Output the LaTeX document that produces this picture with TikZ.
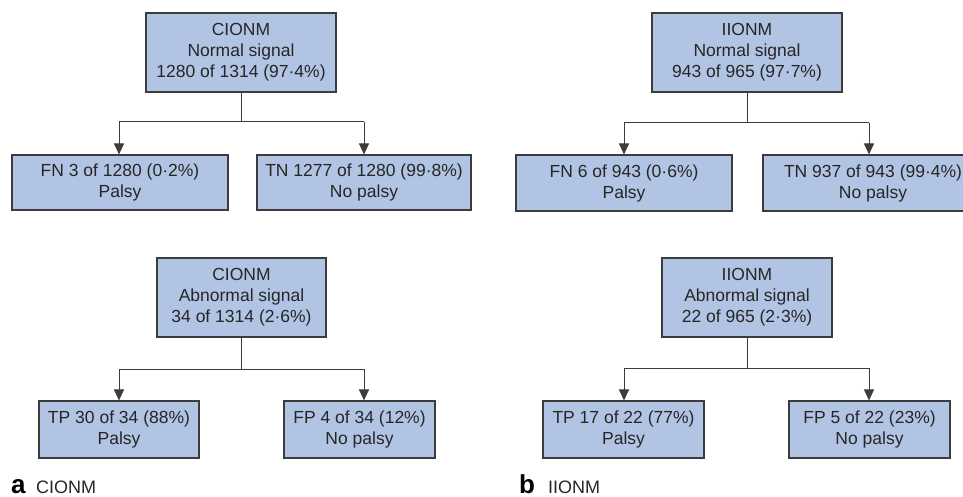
\documentclass[tikz,border=0pt]{standalone}
\usepackage{fontspec}
\setmainfont{Liberation Sans}
\usetikzlibrary{arrows.meta}
\definecolor{boxfill}{RGB}{178,196,228}
\definecolor{boxline}{RGB}{60,60,60}
\begin{document}
\begin{tikzpicture}[x=1pt,y=-1pt,
  bx/.style={draw=boxline,line width=1.1pt,fill=boxfill,align=center,inner sep=0pt,
    font=\fontsize{17.5}{21}\selectfont,text=black!85},
  cn/.style={draw=boxline,line width=1pt},
  arr/.style={cn,-{Triangle[width=10pt,length=11pt]}},
  lbl/.style={anchor=base west,inner sep=0pt,font=\fontsize{26}{26}\selectfont\bfseries},
  lbt/.style={anchor=base west,inner sep=0pt,font=\fontsize{18}{18}\selectfont,text=black!85}]
\useasboundingbox (0,0) rectangle (963,497);
\clip (0,0) rectangle (963,497);
\fill[white] (0,0) rectangle (963,497);
% ---- a: CIONM
\node[bx,minimum width=190pt,minimum height=79pt] (n1) at (241,52.5) {CIONM\\Normal signal\\1280 of 1314 (97·4\%)};
\node[bx,minimum width=216pt,minimum height=55pt] (fn1) at (120,182.5) {FN 3 of 1280 (0·2\%)\\Palsy};
\node[bx,minimum width=214pt,minimum height=55pt] (tn1) at (364,182.5) {TN 1277 of 1280 (99·8\%)\\No palsy};
\coordinate (j1) at (241,122);
\coordinate (l1) at (119,122);
\coordinate (r1) at (364,122);
\draw[cn] (n1.south) -- (j1);
\draw[cn] (l1) -- (r1);
\draw[arr] (l1) -- (l1 |- fn1.north);
\draw[arr] (r1) -- (r1 |- tn1.north);

\node[bx,minimum width=169pt,minimum height=79pt] (a1) at (241.5,297.5) {CIONM\\Abnormal signal\\34 of 1314 (2·6\%)};
\node[bx,minimum width=160pt,minimum height=57pt] (tp1) at (119,429.5) {TP 30 of 34 (88\%)\\Palsy};
\node[bx,minimum width=151pt,minimum height=57pt] (fp1) at (359.5,429.5) {FP 4 of 34 (12\%)\\No palsy};
\coordinate (j2) at (241,369);
\coordinate (l2) at (119,369);
\coordinate (r2) at (364,369);
\draw[cn] (a1.south) -- (a1.south |- j2);
\draw[cn] (l2) -- (r2);
\draw[arr] (l2) -- (l2 |- tp1.north);
\draw[arr] (r2) -- (r2 |- fp1.north);

% ---- b: IIONM
\node[bx,minimum width=190pt,minimum height=79pt] (n2) at (747,52.5) {IIONM\\Normal signal\\943 of 965 (97·7\%)};
\node[bx,minimum width=216pt,minimum height=56pt] (fn2) at (624,183) {FN 6 of 943 (0·6\%)\\Palsy};
\node[bx,minimum width=212pt,minimum height=56pt] (tn2) at (869,183) {\hspace*{8pt}TN 937 of 943 (99·4\%)\\\hspace*{8pt}No palsy};
\coordinate (j3) at (747,123);
\coordinate (l3) at (624,123);
\coordinate (r3) at (869,123);
\draw[cn] (n2.south) -- (j3);
\draw[cn] (l3) -- (r3);
\draw[arr] (l3) -- (l3 |- fn2.north);
\draw[arr] (r3) -- (r3 |- tn2.north);

\node[bx,minimum width=170pt,minimum height=79pt] (a2) at (747,297.5) {IIONM\\Abnormal signal\\22 of 965 (2·3\%)};
\node[bx,minimum width=161pt,minimum height=57pt] (tp2) at (623.5,429.5) {TP 17 of 22 (77\%)\\Palsy};
\node[bx,minimum width=161pt,minimum height=57pt] (fp2) at (869.5,429.5) {FP 5 of 22 (23\%)\\No palsy};
\coordinate (j4) at (747,368);
\coordinate (l4) at (624,368);
\coordinate (r4) at (869,368);
\draw[cn] (a2.south) -- (j4);
\draw[cn] (l4) -- (r4);
\draw[arr] (l4) -- (l4 |- tp2.north);
\draw[arr] (r4) -- (r4 |- fp2.north);

% ---- panel labels
\node[lbl] (la) at (11,493) {a};
\node[lbt] (lta) at (36,493) {CIONM};
\node[lbl] (lb) at (519,493) {b};
\node[lbt] (ltb) at (548,493) {IIONM};
\end{tikzpicture}
\end{document}
